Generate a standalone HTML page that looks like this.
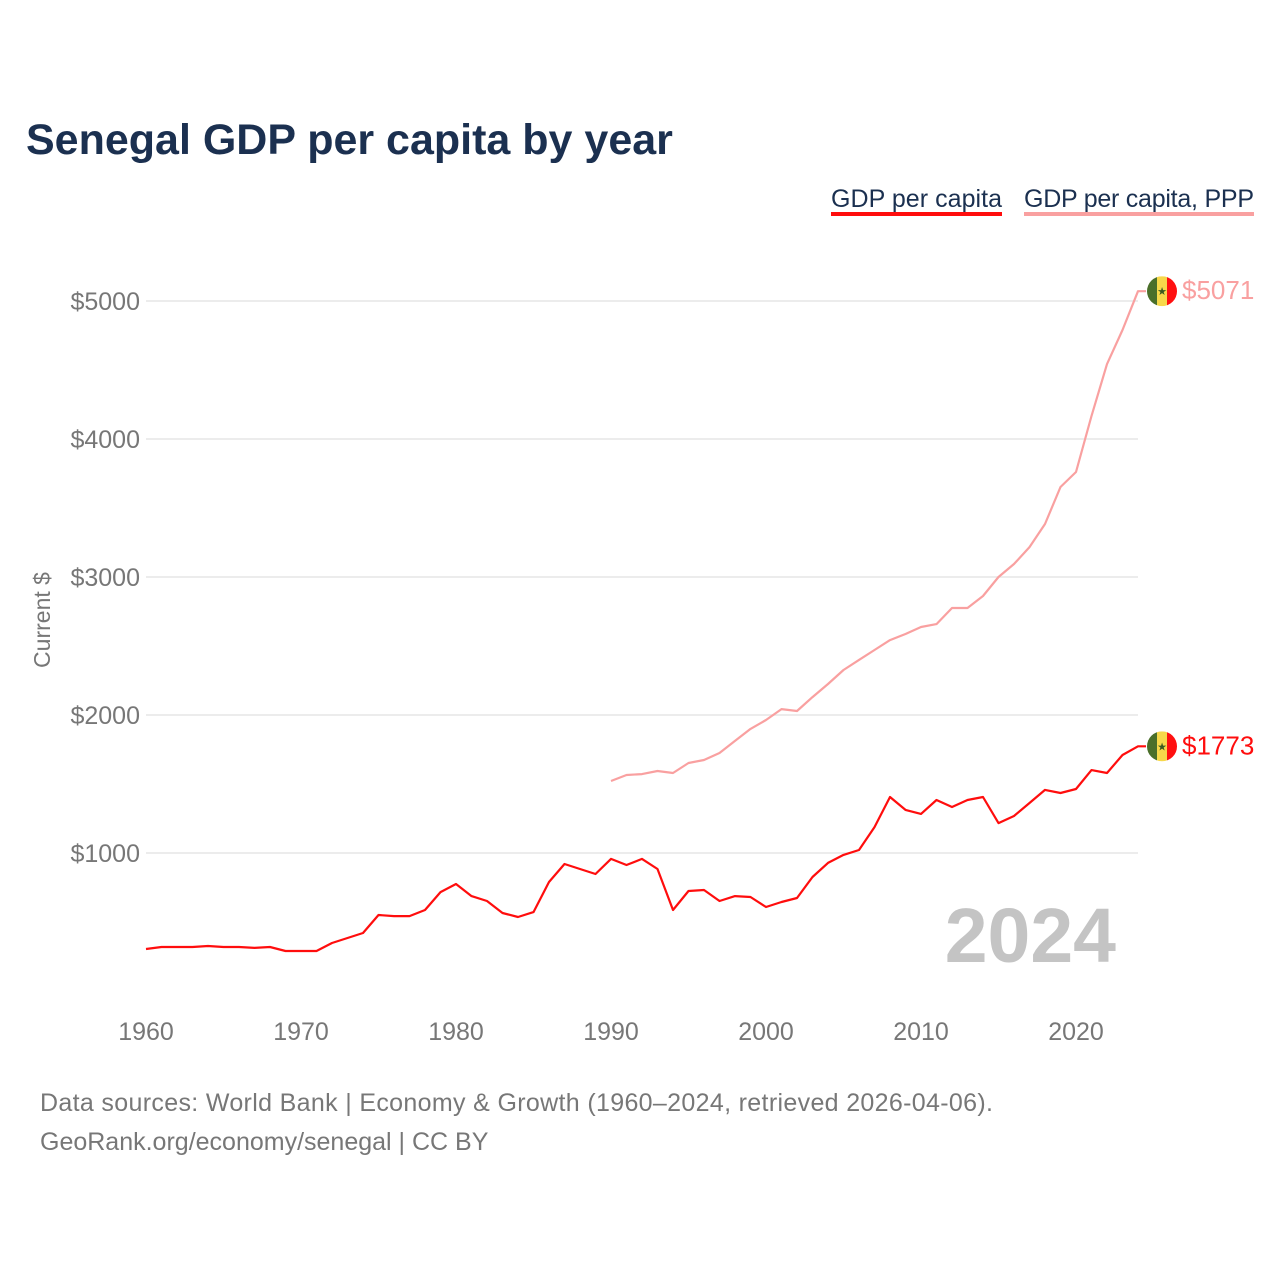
<!DOCTYPE html>
<html><head><meta charset="utf-8"><style>
body{margin:0;width:1280px;height:1280px;background:#fff;font-family:"Liberation Sans",sans-serif;overflow:hidden}
</style></head><body>
<svg width="1280" height="1280" xmlns="http://www.w3.org/2000/svg">
<text x="26" y="154" font-size="43" font-weight="bold" fill="#1b3050">Senegal GDP per capita by year</text>
<g>
<text x="831" y="207" font-size="25" fill="#1b3050" textLength="171">GDP per capita</text>
<rect x="831" y="212" width="171" height="4" fill="#ff0d0d"/>
<text x="1024" y="207" font-size="25" fill="#1b3050" textLength="230">GDP per capita, PPP</text>
<rect x="1024" y="212" width="230" height="4" fill="#f9a0a0"/>
</g>
<g id="grid"></g>
<g id="yt"></g>
<g id="xt"></g>
<text x="50" y="620" font-size="23" fill="#777" text-anchor="middle" transform="rotate(-90 50 620)">Current $</text>
<text x="1116" y="962" font-size="77" font-weight="bold" fill="#c4c4c4" text-anchor="end">2024</text>
<g id="lines"></g>
<text x="40" y="1111" font-size="25" fill="#777" textLength="953">Data sources: World Bank | Economy &amp; Growth (1960–2024, retrieved 2026-04-06).</text>
<text x="40" y="1150" font-size="25" fill="#777">GeoRank.org/economy/senegal | CC BY</text>
</svg>
<script>
const gdpYears=[];for(let y=1960;y<=2024;y++)gdpYears.push(y);
const gdpValues=[304,319,319,319,326,319,319,312,319,290,290,290,348,384,420,551,543,543,587,717,775,688,652,565,536,572,790,920,884,848,957,913,957,884,587,725,732,652,688,681,609,645,674,826,928,986,1022,1188,1406,1312,1283,1384,1333,1384,1406,1217,1268,1362,1457,1435,1464,1601,1580,1710,1773];
const pppYears=[];for(let y=1990;y<=2024;y++)pppYears.push(y);
const pppValues=[1522,1565,1572,1594,1580,1652,1674,1725,1812,1899,1964,2043,2029,2130,2225,2326,2399,2471,2543,2587,2638,2659,2775,2775,2862,3000,3094,3217,3384,3652,3761,4167,4543,4790,5071];
const yTicks=[1000,2000,3000,4000,5000];
const xTicks=[1960,1970,1980,1990,2000,2010,2020];
const NS="http://www.w3.org/2000/svg";
const X=v=>146+(v-1960)*15.5, Y=v=>991-v*0.138;
function mk(t,a,p){const e=document.createElementNS(NS,t);for(const k in a)e.setAttribute(k,a[k]);p.appendChild(e);return e;}
const grid=document.getElementById('grid'),yt=document.getElementById('yt'),xt=document.getElementById('xt'),lines=document.getElementById('lines');
yTicks.forEach(v=>{
 const l=mk('line',{x1:146,x2:1138,y1:Y(v),y2:Y(v),stroke:'#e6e6e6','stroke-width':1.5},grid);
 
 
 const t=mk('text',{x:140,y:Y(v)+9,'font-size':25,fill:'#777','text-anchor':'end'},yt);t.textContent='$'+v;
 
 
});
xTicks.forEach(v=>{
 const t=mk('text',{x:X(v),y:1040,'font-size':25,fill:'#777','text-anchor':'middle'},xt);t.textContent=v;
 
 
});
function series(xs,vs,col,name,lab){
 const d=xs.map((x,i)=>(i?'L':'M')+X(x).toFixed(1)+','+Y(vs[i]).toFixed(1)).join('')+'H'+(X(2024)+8);
 const p=mk('path',{d:d,fill:'none',stroke:col,'stroke-width':2.2,'stroke-linejoin':'round'},lines);
 
 
 const yy=Y(vs[vs.length-1]);const cx=1162;
 const g=mk('g',{},lines);
 
 
 const cp='clip'+name;const c=mk('clipPath',{id:cp},g);mk('circle',{cx:cx,cy:yy,r:15},c);
 const gg=mk('g',{'clip-path':'url(#'+cp+')'},g);
 mk('rect',{x:cx-15,y:yy-15,width:10,height:30,fill:'#4a6f2a'},gg);
 mk('rect',{x:cx-5,y:yy-15,width:10,height:30,fill:'#f7d84a'},gg);
 mk('rect',{x:cx+5,y:yy-15,width:10,height:30,fill:'#ff1010'},gg);
 const s=mk('text',{x:cx,y:yy+4,'font-size':11,fill:'#3c5a20','text-anchor':'middle'},g);s.textContent='★';
 const t=mk('text',{x:1182,y:yy+8,'font-size':26,fill:col},lines);t.textContent='$'+lab;
 
 
}
series(pppYears,pppValues,'#f9a0a0','ppp',pppValues[pppValues.length-1]);
series(gdpYears,gdpValues,'#ff0d0d','gdp',gdpValues[gdpValues.length-1]);
</script>
</body></html>
